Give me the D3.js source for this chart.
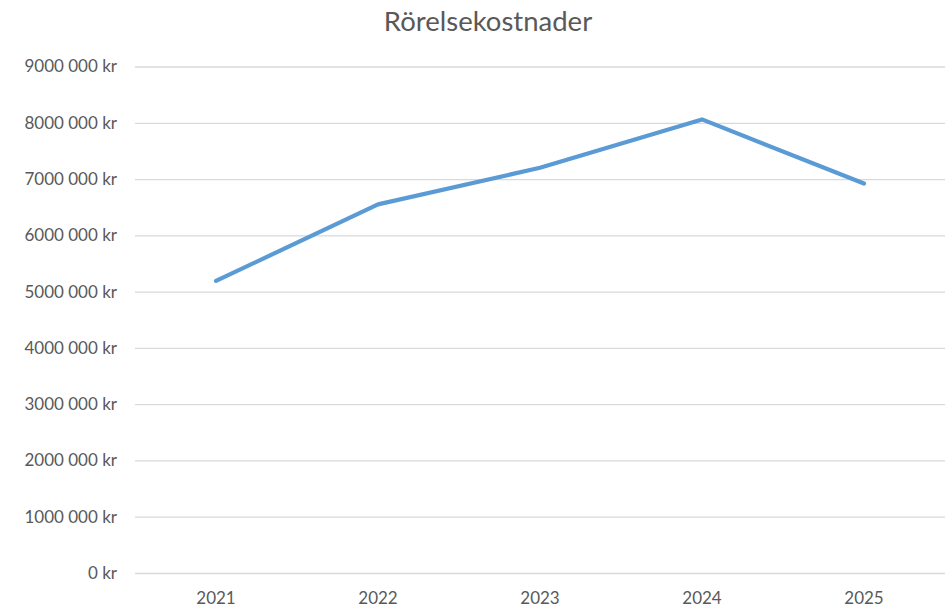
<!DOCTYPE html>
<html><head><meta charset="utf-8">
<script src="https://cdn.jsdelivr.net/npm/d3@7"></script>
<style>body{margin:0;background:#fff;} svg{display:block;font-family:Lato,"Open Sans",sans-serif;}</style>
</head><body>
<svg id="c" width="951" height="610"></svg>
<script>
const title = "Rörelsekostnader";
const years = ["2021","2022","2023","2024","2025"];
const values = [5190000, 6550000, 7200000, 8060000, 6920000];
const yTicks = [0,1000000,2000000,3000000,4000000,5000000,6000000,7000000,8000000,9000000];

(function(){
const svg = d3.select("#c");
const mLeft = 135, mRight = 945, mTop = 66.5, mBottom = 573;
const x = d3.scaleBand().domain(years).range([mLeft, mRight]);
const y = d3.scaleLinear().domain([0, 9000000]).range([mBottom, mTop]);

const fmt = v => {
  if (v === 0) return "0 kr";
  const s = String(v);
  const last3 = s.slice(-3), mid = s.slice(-6,-3), head = s.slice(0,-6);
  return head + mid + " " + last3 + " kr";
};

svg.append("text").attr("x", 488).attr("y", 31).attr("text-anchor","middle")
  .attr("font-size", 27.5).attr("fill","#595959").text(title);

const yAxis = d3.axisLeft(y).tickValues(yTicks).tickSize(-(mRight-mLeft)).tickPadding(18).tickFormat(fmt);
const gy = svg.append("g").attr("transform",`translate(${mLeft},0)`).call(yAxis);
gy.select(".domain").remove();
gy.selectAll(".tick line").attr("stroke","#d9d9d9").attr("stroke-width",1.3);
gy.selectAll(".tick text").attr("fill","#595959").attr("font-size",17).attr("font-family","Lato, sans-serif");

const xAxis = d3.axisBottom(x).tickSize(0).tickPadding(19);
const gx = svg.append("g").attr("transform",`translate(0,${mBottom})`).call(xAxis);
gx.select(".domain").remove();
gx.selectAll(".tick text").attr("fill","#595959").attr("font-size",17).attr("font-family","Lato, sans-serif");

const line = d3.line().x((d,i)=>x(years[i])+x.bandwidth()/2).y(d=>y(d));
svg.append("path").datum(values).attr("d", line).attr("fill","none")
  .attr("stroke","#5b9bd5").attr("stroke-width",4.2).attr("stroke-linecap","round").attr("stroke-linejoin","round");
})();
</script>
</body></html>
